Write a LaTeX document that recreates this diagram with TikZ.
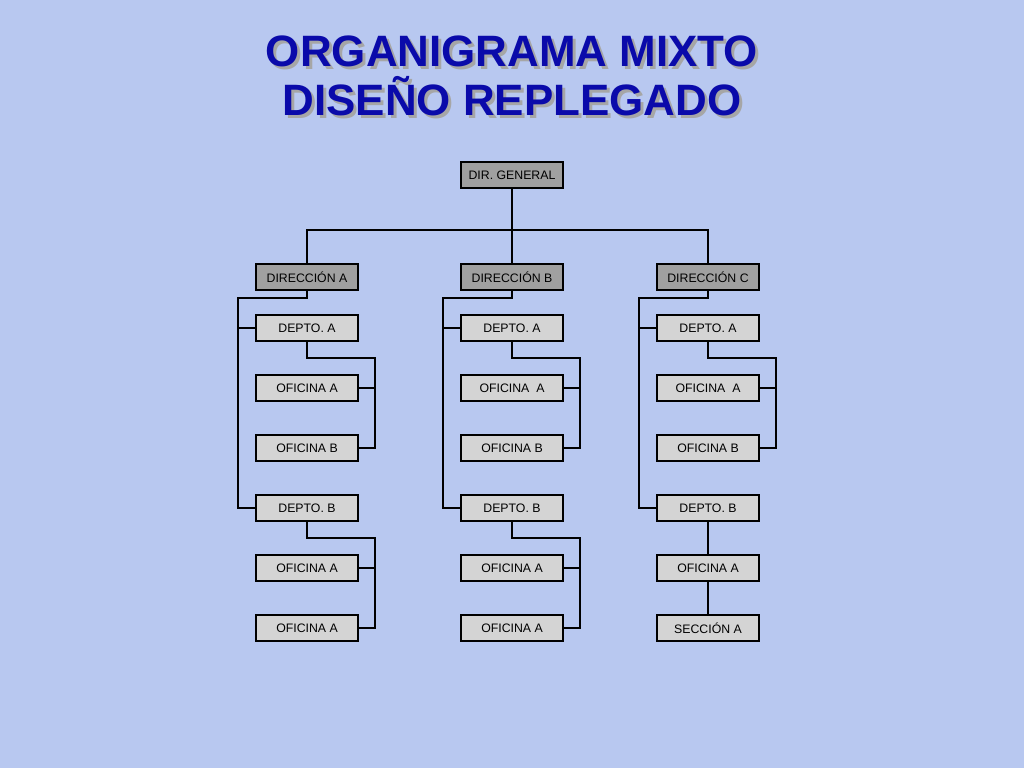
\documentclass[tikz,border=0pt]{standalone}
\usepackage{fontspec}
\setmainfont{Liberation Sans}
\usetikzlibrary{positioning}
\definecolor{bgblue}{RGB}{184,200,240}
\definecolor{titleblue}{RGB}{10,10,170}
\definecolor{darkbox}{RGB}{160,160,160}
\definecolor{lightbox}{RGB}{212,212,212}

\begin{document}
\begin{tikzpicture}[
        x=0.02cm, y=-0.02cm,
        unit/.style={rectangle, draw, semithick, minimum width=2.04cm, minimum height=0.52cm, inner sep=0pt, font=\fontsize{7}{8}\selectfont},
        head/.style={unit, fill=darkbox},
        sub/.style={unit, fill=lightbox},
        link/.style={semithick}
    ]
    % Background
    \fill[bgblue] (0,0) rectangle (1024,768);
    % Title
    \node[font=\fontsize{25}{28}\selectfont\bfseries, text=gray!70, align=center] at (515,79) {ORGANIGRAMA MIXTO\\DISEÑO REPLEGADO};
    \node[font=\fontsize{25}{28}\selectfont\bfseries, text=titleblue, align=center] (title) at (512,76) {ORGANIGRAMA MIXTO\\DISEÑO REPLEGADO};
    % Top levels
    \node[head] (gen) at (512,175) {DIR. GENERAL};
    \node[head] (dira) at (307,277) {DIRECCIÓN A};
    \node[head] (dirb) at (512,277) {DIRECCIÓN B};
    \node[head] (dirc) at (708,277) {DIRECCIÓN C};
    % Column A
    \node[sub] (a1) at (307,328) {DEPTO. A};
    \node[sub] (a2) at (307,388) {OFICINA A};
    \node[sub] (a3) at (307,448) {OFICINA B};
    \node[sub] (a4) at (307,508) {DEPTO. B};
    \node[sub] (a5) at (307,568) {OFICINA A};
    \node[sub] (a6) at (307,628) {OFICINA A};
    % Column B
    \node[sub] (b1) at (512,328) {DEPTO. A};
    \node[sub] (b2) at (512,388) {OFICINA \ A};
    \node[sub] (b3) at (512,448) {OFICINA B};
    \node[sub] (b4) at (512,508) {DEPTO. B};
    \node[sub] (b5) at (512,568) {OFICINA A};
    \node[sub] (b6) at (512,628) {OFICINA A};
    % Column C
    \node[sub] (c1) at (708,328) {DEPTO. A};
    \node[sub] (c2) at (708,388) {OFICINA \ A};
    \node[sub] (c3) at (708,448) {OFICINA B};
    \node[sub] (c4) at (708,508) {DEPTO. B};
    \node[sub] (c5) at (708,568) {OFICINA A};
    \node[sub] (c6) at (708,628) {SECCIÓN A};
    % Top connectors
    \draw[link] (gen) -- (dirb);
    \draw[link] (dira) -- (307,230) -| (dirc);
    % Folded connectors
    \foreach \col/\x in {a/307, b/512, c/708} {
        \draw[link] (dir\col.south) -- (\x,298) -- (\x-69,298) |- (\col4.west);
        \draw[link] (\col1.west) -- ++(-18,0);
        \draw[link] (\col1.south) -- (\x,358) -- (\x+68,358) |- (\col3.east);
        \draw[link] (\col2.east) -- ++(17,0);
    }
    \foreach \col/\x in {a/307, b/512} {
        \draw[link] (\col4.south) -- (\x,538) -- (\x+68,538) |- (\col6.east);
        \draw[link] (\col5.east) -- ++(17,0);
    }
    \draw[link] (c4) -- (c5);
    \draw[link] (c5) -- (c6);
\end{tikzpicture}
\end{document}
